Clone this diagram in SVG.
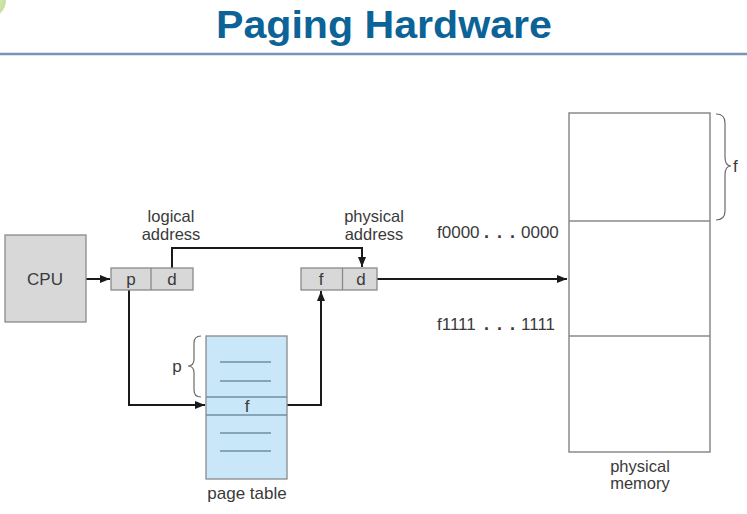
<svg xmlns="http://www.w3.org/2000/svg" width="747" height="514" viewBox="0 0 747 514">
  <style>
    .lbl { font-family: "Liberation Sans", Arial, sans-serif; font-size: 17px; fill: #3a3a3a; }
    .two { font-size: 16.5px; }
    .mid { text-anchor: middle; }
    .dots { font-weight: bold; font-size: 18px; }
    .box { fill: #d8d8d8; stroke: #8a8a8a; stroke-width: 1.3; }
    .pt { fill: #c9e7f8; stroke: #8a8a8a; stroke-width: 1.3; }
    .ptline { stroke: #6e8fa6; stroke-width: 1.3; }
    .mem { fill: #ffffff; stroke: #8a8a8a; stroke-width: 1.5; }
    .brace { fill: none; stroke: #6a6a6a; stroke-width: 1.2; }
    .wire { fill: none; stroke: #1a1a1a; stroke-width: 2; marker-end: url(#arrow); }
  </style>
  <defs>
    <marker id="arrow" viewBox="0 0 10 8" refX="10" refY="4" markerWidth="10" markerHeight="8" markerUnits="userSpaceOnUse" orient="auto">
      <path d="M0,0 L10,4 L0,8 Z" fill="#1a1a1a"/>
    </marker>
    <radialGradient id="dot" cx="0.5" cy="0.5" r="0.5">
      <stop offset="0" stop-color="#e8f2d4"/>
      <stop offset="1" stop-color="#c6de9a"/>
    </radialGradient>
  </defs>

  <rect x="0" y="0" width="747" height="514" fill="#ffffff"/>

  <!-- slide header -->
  <g id="header">
    <circle cx="-12" cy="0" r="18" fill="url(#dot)"/>
    <text x="384" y="38" text-anchor="middle" font-family="'Liberation Sans', Arial, sans-serif" font-weight="bold" font-size="39" fill="#0b6397" textLength="336" lengthAdjust="spacingAndGlyphs">Paging Hardware</text>
    <line x1="0" y1="54" x2="747" y2="54" stroke="#7892b8" stroke-width="2.5"/>
  </g>

  <!-- connectors -->
  <g id="connectors">
    <path class="wire" d="M86,279 H110"/>
    <path class="wire" d="M172,268 V248 H362 V267"/>
    <path class="wire" d="M129,290 V405 H205"/>
    <path class="wire" d="M287,405 H321 V291"/>
    <path class="wire" d="M377,279 H567"/>
  </g>

  <g id="cpu">
    <rect class="box" x="5" y="235" width="81" height="87"/>
    <text class="lbl mid" x="45" y="285">CPU</text>
  </g>

  <g id="logical-address">
    <rect class="box" x="111" y="268" width="82" height="22"/>
    <line x1="151" y1="268" x2="151" y2="290" stroke="#8a8a8a" stroke-width="1.3"/>
    <text class="lbl mid" x="131" y="285">p</text>
    <text class="lbl mid" x="172" y="285">d</text>
    <text class="lbl two mid" x="171" y="222">logical</text>
    <text class="lbl two mid" x="171" y="239.5">address</text>
  </g>

  <g id="physical-address">
    <rect class="box" x="301" y="268" width="76" height="22"/>
    <line x1="342.5" y1="268" x2="342.5" y2="290" stroke="#8a8a8a" stroke-width="1.3"/>
    <text class="lbl mid" x="321" y="285">f</text>
    <text class="lbl mid" x="361" y="285">d</text>
    <text class="lbl two mid" x="374" y="222">physical</text>
    <text class="lbl two mid" x="374" y="239.5">address</text>
  </g>

  <g id="page-table">
    <rect class="pt" x="206" y="336" width="81" height="143"/>
    <line class="ptline" x1="206" y1="397" x2="287" y2="397"/>
    <line class="ptline" x1="206" y1="415" x2="287" y2="415"/>
    <line class="ptline" x1="220" y1="362" x2="271" y2="362"/>
    <line class="ptline" x1="220" y1="381" x2="271" y2="381"/>
    <line class="ptline" x1="220" y1="433" x2="271" y2="433"/>
    <line class="ptline" x1="220" y1="451" x2="271" y2="451"/>
    <text class="lbl mid" x="247" y="412">f</text>
    <path class="brace" d="M201,336 Q194,336 194,343 L194,359 Q194,366 188,366 Q194,366 194,373 L194,390 Q194,397 201,397"/>
    <text class="lbl mid" x="177" y="372">p</text>
    <text class="lbl mid" x="247" y="499">page table</text>
  </g>

  <g id="physical-memory">
    <rect class="mem" x="569" y="113" width="141" height="339"/>
    <line x1="569" y1="221" x2="710" y2="221" stroke="#8a8a8a" stroke-width="1.3"/>
    <line x1="569" y1="336" x2="710" y2="336" stroke="#8a8a8a" stroke-width="1.3"/>
    <path class="brace" d="M716,114 Q725,114 725,123 L725,157 Q725,166 731,166 Q725,166 725,175 L725,211 Q725,220 716,220"/>
    <text class="lbl" x="733" y="172">f</text>
    <text class="lbl" x="437" y="238">f0000 <tspan class="dots" x="484" letter-spacing="8">..</tspan><tspan class="dots">.</tspan> <tspan x="521">0000</tspan></text>
    <text class="lbl" x="437" y="330">f1111 <tspan class="dots" x="484" letter-spacing="8">..</tspan><tspan class="dots">.</tspan> <tspan x="521">1111</tspan></text>
    <text class="lbl two mid" x="640" y="472">physical</text>
    <text class="lbl two mid" x="640" y="489">memory</text>
  </g>
</svg>
